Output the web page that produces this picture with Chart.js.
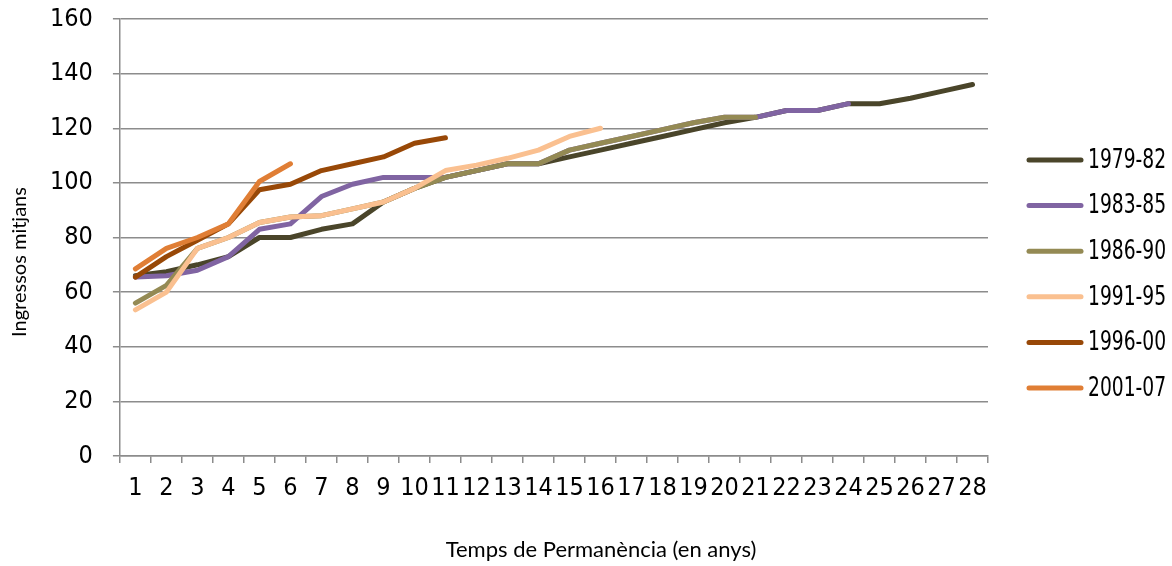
<!DOCTYPE html>
<html>
<head>
<meta charset="utf-8">
<script src="https://cdn.jsdelivr.net/npm/chart.js@4"></script>
<style>
  body { margin: 0; background: #fff; overflow: hidden; }
  #myChart { display: block; margin-top: -16px; }
</style>
</head>
<body>
<canvas id="myChart" width="1172" height="593"></canvas>
<script>
var years = [1, 2, 3, 4, 5, 6, 7, 8, 9, 10, 11, 12, 13, 14, 15, 16, 17, 18, 19, 20, 21, 22, 23, 24, 25, 26, 27, 28];

var s1979 = [66, 67.5, 70, 73, 80, 80, 83, 85, 93, 98, 102, 104.5, 107, 107, 109.5, 112, 114.5, 117, 119.5, 122, 124, 126.5, 126.5, 129, 129, 131, 133.5, 136];
var s1983 = [65.5, 66, 68, 73, 83, 85, 95, 99.5, 102, 102, 102, 104.5, 107, 107, 112, 114.5, 117, 119.5, 122, 124, 124, 126.5, 126.5, 129];
var s1986 = [56, 62.5, 76, 80, 85.5, 87.5, 88, 90.5, 93, 98, 102, 104.5, 107, 107, 112, 114.5, 117, 119.5, 122, 124, 124];
var s1991 = [53.5, 60, 76, 80, 85.5, 87.5, 88, 90.5, 93, 98, 104.5, 106.5, 109, 112, 117, 120];
var s1996 = [65.5, 73, 79, 85, 97.5, 99.5, 104.5, 107, 109.5, 114.5, 116.5];
var s2001 = [68.5, 76, 80, 85, 100.5, 107];

var seriesNames = ['1979-82', '1983-85', '1986-90', '1991-95', '1996-00', '2001-07'];
var seriesColors = ['#4A452A', '#8064A2', '#948A54', '#FAC090', '#984807', '#E07E35'];
var yTicks = [0, 20, 40, 60, 80, 100, 120, 140, 160];

var narrow = '"DejaVu Sans Condensed", "Liberation Sans", Arial, sans-serif';
var titleFont = 'Lato, "Open Sans", sans-serif';
var OFF = 16; // canvas is pulled up by this much

function makeDataset(i, values) {
    return {
        label: seriesNames[i],
        data: values,
        borderColor: seriesColors[i],
        backgroundColor: seriesColors[i],
        borderWidth: 5,
        pointRadius: 0,
        tension: 0,
        fill: false,
        borderCapStyle: 'round',
        borderJoinStyle: 'round',
        order: 5 - i
    };
}

// legend on the right and the two axis titles
const overlay = {
    id: 'overlay',
    afterDraw(chart) {
        const c = chart.ctx;
        c.save();
        chart.data.datasets.forEach(function (ds, i) {
            const y = 160 + i * 45.6 + OFF;
            c.strokeStyle = ds.borderColor;
            c.lineWidth = 5;
            c.lineCap = 'round';
            c.beginPath();
            c.moveTo(1029, y);
            c.lineTo(1081, y);
            c.stroke();
            c.save();
            c.translate(1088, y + 1);
            c.scale(0.8, 1);
            c.fillStyle = '#000';
            c.font = '26px ' + narrow;
            c.textBaseline = 'middle';
            c.textAlign = 'left';
            c.fillText(ds.label, 0, 0);
            c.restore();
        });

        c.fillStyle = '#000';
        c.textAlign = 'center';
        c.textBaseline = 'middle';
        c.font = '22px ' + titleFont;
        c.fillText('Temps de Permanència (en anys)', 601, 550 + OFF);

        c.save();
        c.translate(20, 262 + OFF);
        c.rotate(-Math.PI / 2);
        c.font = '20px ' + titleFont;
        c.fillText('Ingressos mitjans', 0, 0);
        c.restore();
        c.restore();
    }
};

const ctx = document.getElementById('myChart').getContext('2d');
const myChart = new Chart(ctx, {
    type: 'line',
    data: {
        labels: years,
        datasets: [
            makeDataset(0, s1979),
            makeDataset(1, s1983),
            makeDataset(2, s1986),
            makeDataset(3, s1991),
            makeDataset(4, s1996),
            makeDataset(5, s2001)
        ]
    },
    plugins: [overlay],
    options: {
        responsive: false,
        animation: false,
        layout: {
            padding: { top: 0, right: 184, bottom: 64, left: 30 }
        },
        plugins: {
            tooltip: { enabled: false },
            legend: { display: false }
        },
        scales: {
            x: {
                offset: true,
                grid: {
                    offset: true,
                    drawOnChartArea: false,
                    drawTicks: true,
                    tickLength: 7,
                    color: '#8c8c8c',
                    lineWidth: 1.5
                },
                border: { color: '#8c8c8c', width: 1.5 },
                ticks: {
                    color: '#000',
                    font: { family: narrow, size: 25 },
                    padding: 10,
                    maxRotation: 0,
                    autoSkip: false
                }
            },
            y: {
                min: 0,
                max: 160,
                afterBuildTicks: function (axis) {
                    axis.ticks = yTicks.map(function (v) { return { value: v }; });
                },
                grid: {
                    color: '#8c8c8c',
                    lineWidth: 1.5,
                    tickLength: 7
                },
                border: { color: '#8c8c8c', width: 1.5 },
                ticks: {
                    color: '#000',
                    font: { family: narrow, size: 25 },
                    padding: 20
                }
            }
        }
    }
});
</script>
</body>
</html>
